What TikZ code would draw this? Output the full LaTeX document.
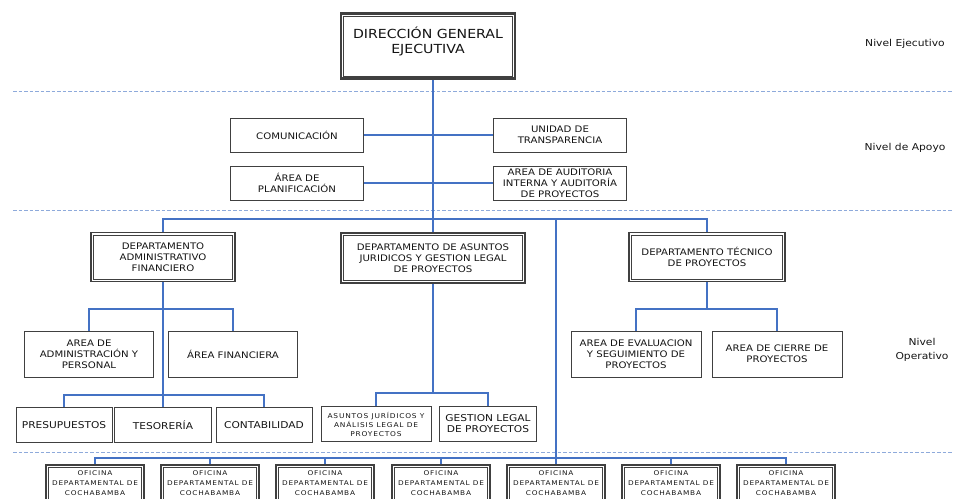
\documentclass[tikz,border=0pt]{standalone}
\usepackage{fontspec}
\setmainfont{DejaVu Sans}[FakeStretch=1.13]
\newfontfamily\spacedfont{DejaVu Sans}[FakeStretch=1.13,LetterSpace=12]
\definecolor{lineblue}{HTML}{4472C4}
\definecolor{dashblue}{HTML}{8EAADB}
\definecolor{boxgray}{HTML}{404040}
\definecolor{txtgray}{HTML}{141414}
\tikzset{box/.style={ % Plain box of the chart
      draw=boxgray, line width=0.8pt,
      align=center, inner sep=1pt,
      text=txtgray, font=\fontsize{9}{10.8}\selectfont},
      deptbox/.style={ % Thick outer line, thin inner line
      box, line width=1.5pt,
      path picture={\draw[boxgray, line width=0.6pt]
        ([shift={(2.6pt,-2.6pt)}]path picture bounding box.north west) rectangle
        ([shift={(-2.6pt,2.6pt)}]path picture bounding box.south east);}},
      topbox/.style={deptbox, line width=2.2pt},
      ofbox/.style={deptbox, minimum width=98pt, minimum height=44pt},
      boxtext/.style={anchor=north, align=center, inner sep=0pt, text=txtgray},
      bigtext/.style={font=\fontsize{9.4}{11}\selectfont}, % Last row of areas
      conn/.style={draw=lineblue, line width=1.1pt}, % Blue connectors
      levelline/.style={draw=dashblue, line width=0.8pt, dash pattern=on 3.5pt off 2pt},
      nivel/.style={align=center, text=txtgray, font=\fontsize{9.5}{14}\selectfont}}
\begin{document}
\begin{tikzpicture}[x=1pt, y=-1pt]
      \useasboundingbox (0,0) rectangle (953,498);
      \clip (0,0) rectangle (953,498);
      % level separators
      \draw[levelline] (13,91) -- (953,91);
      \draw[levelline] (13,210) -- (953,210);
      \draw[levelline] (13,452) -- (953,452);
      \node[nivel] (lvlej) at (905,44) {Nivel Ejecutivo};
      \node[nivel] (lvlap) at (905,148) {Nivel de Apoyo};
      \node[nivel] (lvlop) at (922,350) {Nivel\\Operativo};
      % executive
      \node[topbox, minimum width=174pt, minimum height=65pt,
        label={[boxtext, yshift=-14pt, font=\fontsize{12.5}{15}\selectfont]north:DIRECCIÓN GENERAL\\EJECUTIVA}] (dir) at (428,46) {};
      % support
      \node[box, minimum width=133pt, minimum height=34pt] (com) at (297,135) {COMUNICACIÓN};
      \node[box, minimum width=133pt, minimum height=34pt] (uni) at (560,135) {UNIDAD DE\\TRANSPARENCIA};
      \node[box, minimum width=133pt, minimum height=34pt] (pla) at (297,183) {ÁREA DE\\PLANIFICACIÓN};
      \node[box, minimum width=133pt, minimum height=34pt] (aud) at (560,183) {AREA DE AUDITORIA\\INTERNA Y AUDITORÍA\\DE PROYECTOS};
      % departments
      \node[deptbox, minimum width=144pt, minimum height=49pt] (adm) at (163,257) {DEPARTAMENTO\\ADMINISTRATIVO\\FINANCIERO};
      \node[deptbox, minimum width=184pt, minimum height=50pt] (jur) at (433,258) {DEPARTAMENTO DE ASUNTOS\\JURIDICOS Y GESTION LEGAL\\DE PROYECTOS};
      \node[deptbox, minimum width=156pt, minimum height=49pt] (tec) at (707,257) {DEPARTAMENTO TÉCNICO\\DE PROYECTOS};
      % areas
      \node[box, minimum width=129pt, minimum height=46pt] (per) at (89,354) {AREA DE\\ADMINISTRACIÓN Y\\PERSONAL};
      \node[box, minimum width=129pt, minimum height=46pt] (fin) at (233,354) {ÁREA FINANCIERA};
      \node[box, minimum width=130pt, minimum height=46pt] (eva) at (636,354) {AREA DE EVALUACION\\Y SEGUIMIENTO DE\\PROYECTOS};
      \node[box, minimum width=130pt, minimum height=46pt] (cie) at (777,354) {AREA DE CIERRE DE\\PROYECTOS};
      \node[box, bigtext, minimum width=96pt, minimum height=35pt] (pre) at (64,425) {PRESUPUESTOS};
      \node[box, bigtext, minimum width=97pt, minimum height=35pt] (tes) at (163,425) {TESORERÍA};
      \node[box, bigtext, minimum width=96pt, minimum height=35pt] (con) at (264,425) {CONTABILIDAD};
      \node[box, minimum width=110pt, minimum height=35pt,
        font=\spacedfont\fontsize{6.6}{9}\selectfont] (asj) at (376,424) {ASUNTOS JURÍDICOS Y\\ANÁLISIS LEGAL DE\\PROYECTOS};
      \node[box, bigtext, minimum width=97pt, minimum height=35pt] (gle) at (488,424) {GESTION LEGAL\\DE PROYECTOS};
      % regional offices
      \node[ofbox, label={[boxtext, yshift=-6pt, font=\spacedfont\fontsize{6.5}{10}\selectfont]north:OFICINA\\DEPARTAMENTAL DE\\COCHABAMBA}] (of1) at (95,487) {};
      \node[ofbox, label={[boxtext, yshift=-6pt, font=\spacedfont\fontsize{6.5}{10}\selectfont]north:OFICINA\\DEPARTAMENTAL DE\\COCHABAMBA}] (of2) at (210,487) {};
      \node[ofbox, label={[boxtext, yshift=-6pt, font=\spacedfont\fontsize{6.5}{10}\selectfont]north:OFICINA\\DEPARTAMENTAL DE\\COCHABAMBA}] (of3) at (325,487) {};
      \node[ofbox, label={[boxtext, yshift=-6pt, font=\spacedfont\fontsize{6.5}{10}\selectfont]north:OFICINA\\DEPARTAMENTAL DE\\COCHABAMBA}] (of4) at (441,487) {};
      \node[ofbox, label={[boxtext, yshift=-6pt, font=\spacedfont\fontsize{6.5}{10}\selectfont]north:OFICINA\\DEPARTAMENTAL DE\\COCHABAMBA}] (of5) at (556,487) {};
      \node[ofbox, label={[boxtext, yshift=-6pt, font=\spacedfont\fontsize{6.5}{10}\selectfont]north:OFICINA\\DEPARTAMENTAL DE\\COCHABAMBA}] (of6) at (671,487) {};
      \node[ofbox, label={[boxtext, yshift=-6pt, font=\spacedfont\fontsize{6.5}{10}\selectfont]north:OFICINA\\DEPARTAMENTAL DE\\COCHABAMBA}] (of7) at (786,487) {};
      % bus lines
      \coordinate (busdep) at (0,219);
      \coordinate (busar) at (0,309);
      \coordinate (busun) at (0,395);
      \coordinate (busjur) at (0,393);
      \coordinate (busof) at (0,458);
      \draw[conn] (dir.south -| jur.north) -- (jur.north);
      \draw[conn] (com.east) -- (uni.west);
      \draw[conn] (pla.east) -- (aud.west);
      \draw[conn] (adm.north) -- (adm.north |- busdep) -- (tec.north |- busdep) -- (tec.north);
      \draw[conn] (of5.north |- busdep) -- (of5.north);
      \draw[conn] (adm.south) -- (tes.north);
      \draw[conn] (per.north) -- (per.north |- busar) -- (fin.north |- busar) -- (fin.north);
      \draw[conn] (pre.north) -- (pre.north |- busun) -- (con.north |- busun) -- (con.north);
      \draw[conn] (jur.south) -- (jur.south |- busjur);
      \draw[conn] (asj.north) -- (asj.north |- busjur) -- (gle.north |- busjur) -- (gle.north);
      \draw[conn] (tec.south) -- (tec.south |- busar);
      \draw[conn] (eva.north) -- (eva.north |- busar) -- (cie.north |- busar) -- (cie.north);
      \draw[conn] (of1.north) -- (of1.north |- busof) -- (of7.north |- busof) -- (of7.north);
      \draw[conn] (of2.north) -- (of2.north |- busof);
      \draw[conn] (of3.north) -- (of3.north |- busof);
      \draw[conn] (of4.north) -- (of4.north |- busof);
      \draw[conn] (of6.north) -- (of6.north |- busof);
    \end{tikzpicture}
\end{document}
